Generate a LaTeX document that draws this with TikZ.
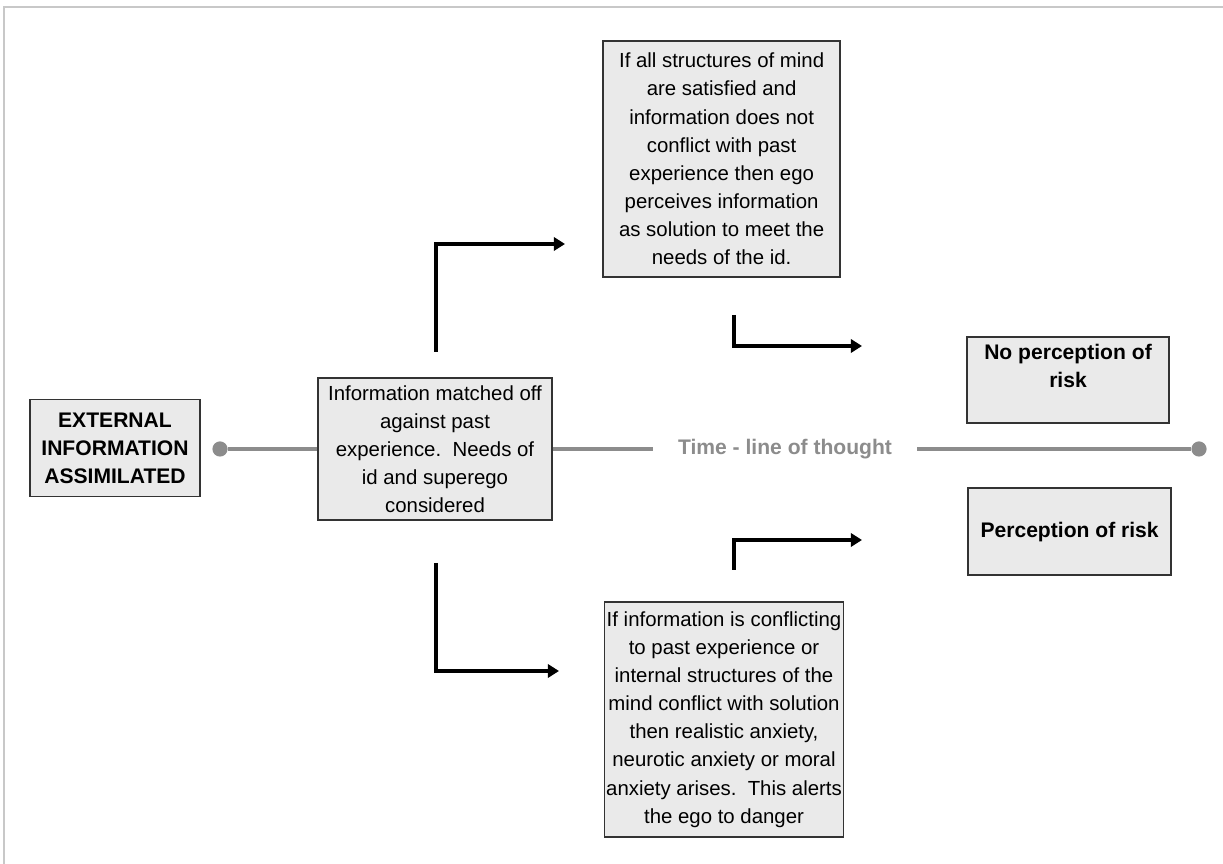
\documentclass[tikz,border=0pt]{standalone}
\usepackage{fontspec}
\setmainfont{Liberation Sans}
\usepackage{xcolor}
\usepackage{tikz}
\usetikzlibrary{positioning,arrows.meta}
\definecolor{boxgray}{HTML}{EAEAEA}
\definecolor{linegray}{HTML}{8C8C8C}
\definecolor{framegray}{HTML}{C8C8C8}
\tikzset{
  flowarrow/.style={-{Triangle[length=8pt,width=9.5pt]}, line width=2.7pt, draw=black},
  every node/.style={anchor=center}
}

\begin{document}
\begin{tikzpicture}[
  font=\fontsize{14.5}{20}\selectfont,
  infobox/.style={draw=black!80, line width=1pt, fill=boxgray, align=center, inner xsep=1pt, inner ysep=2pt},
  boldbox/.style={infobox, font=\fontsize{15}{20}\selectfont\bfseries},
  timeline/.style={line width=2.8pt, draw=linegray},
  tdot/.style={circle, fill=linegray, inner sep=0pt, minimum size=0.38cm}
]
\useasboundingbox (0,0) rectangle (30.575,21.6);

% frame
\draw[framegray, line width=1.4pt] (0.1,0) -- (0.1,21.425) -- (30.575,21.425);

% time line
\node[tdot] (tstart) at (5.5,10.375) {};
\node[tdot] (tend)   at (29.975,10.375) {};
\draw[timeline] (tstart) -- (tend);
\node[fill=white, text=linegray, font=\fontsize{15}{20}\selectfont\bfseries, minimum width=6.6cm] (tlabel) at (19.625,10.375) {Time - line of thought};

% boxes
\node[boldbox, minimum width=4.25cm, minimum height=2.425cm] (ext) at (2.875,10.4) {EXTERNAL\\INFORMATION\\ASSIMILATED};
\node[infobox, minimum width=5.85cm, minimum height=3.55cm] (match) at (10.875,10.375) {Information matched off\\against past\\experience.~~Needs of\\id and superego\\considered};
\node[infobox, minimum width=5.925cm, minimum height=5.9cm] (satisfied) at (18.04,17.625) {If all structures of mind\\are satisfied and\\information does not\\conflict with past\\experience then ego\\perceives information\\as solution to meet the\\needs of the id.};
\node[infobox, minimum width=5.85cm, minimum height=5.875cm] (conflict) at (18.1,3.6125) {If information is conflicting\\to past experience or\\internal structures of the\\mind conflict with solution\\then realistic anxiety,\\neurotic anxiety or moral\\anxiety arises.~~This alerts\\the ego to danger};
\node[boldbox, minimum width=5.05cm, minimum height=2.15cm] (norisk) at (26.7,12.1) {No perception of\\risk\\\mbox{}};
\node[boldbox, minimum width=5.075cm, minimum height=2.175cm] (risk) at (26.74,8.31) {Perception of risk};

% elbow arrows
\coordinate (upA) at (10.9,12.8);
\coordinate (upB) at (14.125,15.5);
\coordinate (upC) at (18.35,13.725);
\coordinate (upD) at (21.55,12.95);
\coordinate (loA) at (10.9,7.525);
\coordinate (loB) at (13.975,4.825);
\coordinate (loC) at (18.35,7.35);
\coordinate (loD) at (21.55,8.1);
\draw[flowarrow] (upA) |- (upB);
\draw[flowarrow] (upC) |- (upD);
\draw[flowarrow] (loA) |- (loB);
\draw[flowarrow] (loC) |- (loD);

\end{tikzpicture}
\end{document}
